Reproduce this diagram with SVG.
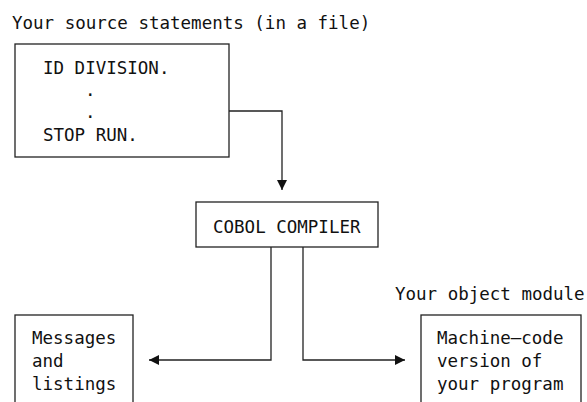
<svg xmlns="http://www.w3.org/2000/svg" width="587" height="402" viewBox="0 0 587 402">
<style>
text{font-family:"DejaVu Sans Mono","Liberation Mono",monospace;font-size:17.5px;fill:#111}
.box{fill:#fff;stroke:#222;stroke-width:1.3}
.ln{fill:none;stroke:#222;stroke-width:1.3}
</style>
<defs>
<marker id="ah" viewBox="0 0 10 10" refX="10" refY="5" markerWidth="10" markerHeight="10" markerUnits="userSpaceOnUse" orient="auto">
<path d="M0,0 L10,5 L0,10 z" fill="#111"/>
</marker>
</defs>
<rect width="587" height="402" fill="#fff"/>
<g id="source">
<text x="12" y="29">Your source statements (in a file)</text>
<rect class="box" x="15" y="44" width="214" height="113"/>
<text x="43" y="74">ID DIVISION.</text>
<text x="85" y="96">.</text>
<text x="85" y="118">.</text>
<text x="43" y="141">STOP RUN.</text>
</g>
<g id="compiler">
<rect class="box" x="196" y="202" width="182" height="45"/>
<text x="213" y="233">COBOL COMPILER</text>
</g>
<g id="messages">
<rect class="box" x="15" y="315" width="118" height="100"/>
<text x="32" y="344">Messages</text>
<text x="32" y="367">and</text>
<text x="32" y="390">listings</text>
</g>
<g id="object">
<text x="395" y="300">Your object module</text>
<rect class="box" x="421" y="315" width="160" height="100"/>
<text x="437" y="344">Machine—code</text>
<text x="437" y="367">version of</text>
<text x="437" y="390">your program</text>
</g>
<g id="connectors">
<path class="ln" d="M229,111 H282 V190" marker-end="url(#ah)"/>
<path class="ln" d="M271,247 V360 H149" marker-end="url(#ah)"/>
<path class="ln" d="M303,247 V360 H405" marker-end="url(#ah)"/>
</g>
</svg>
